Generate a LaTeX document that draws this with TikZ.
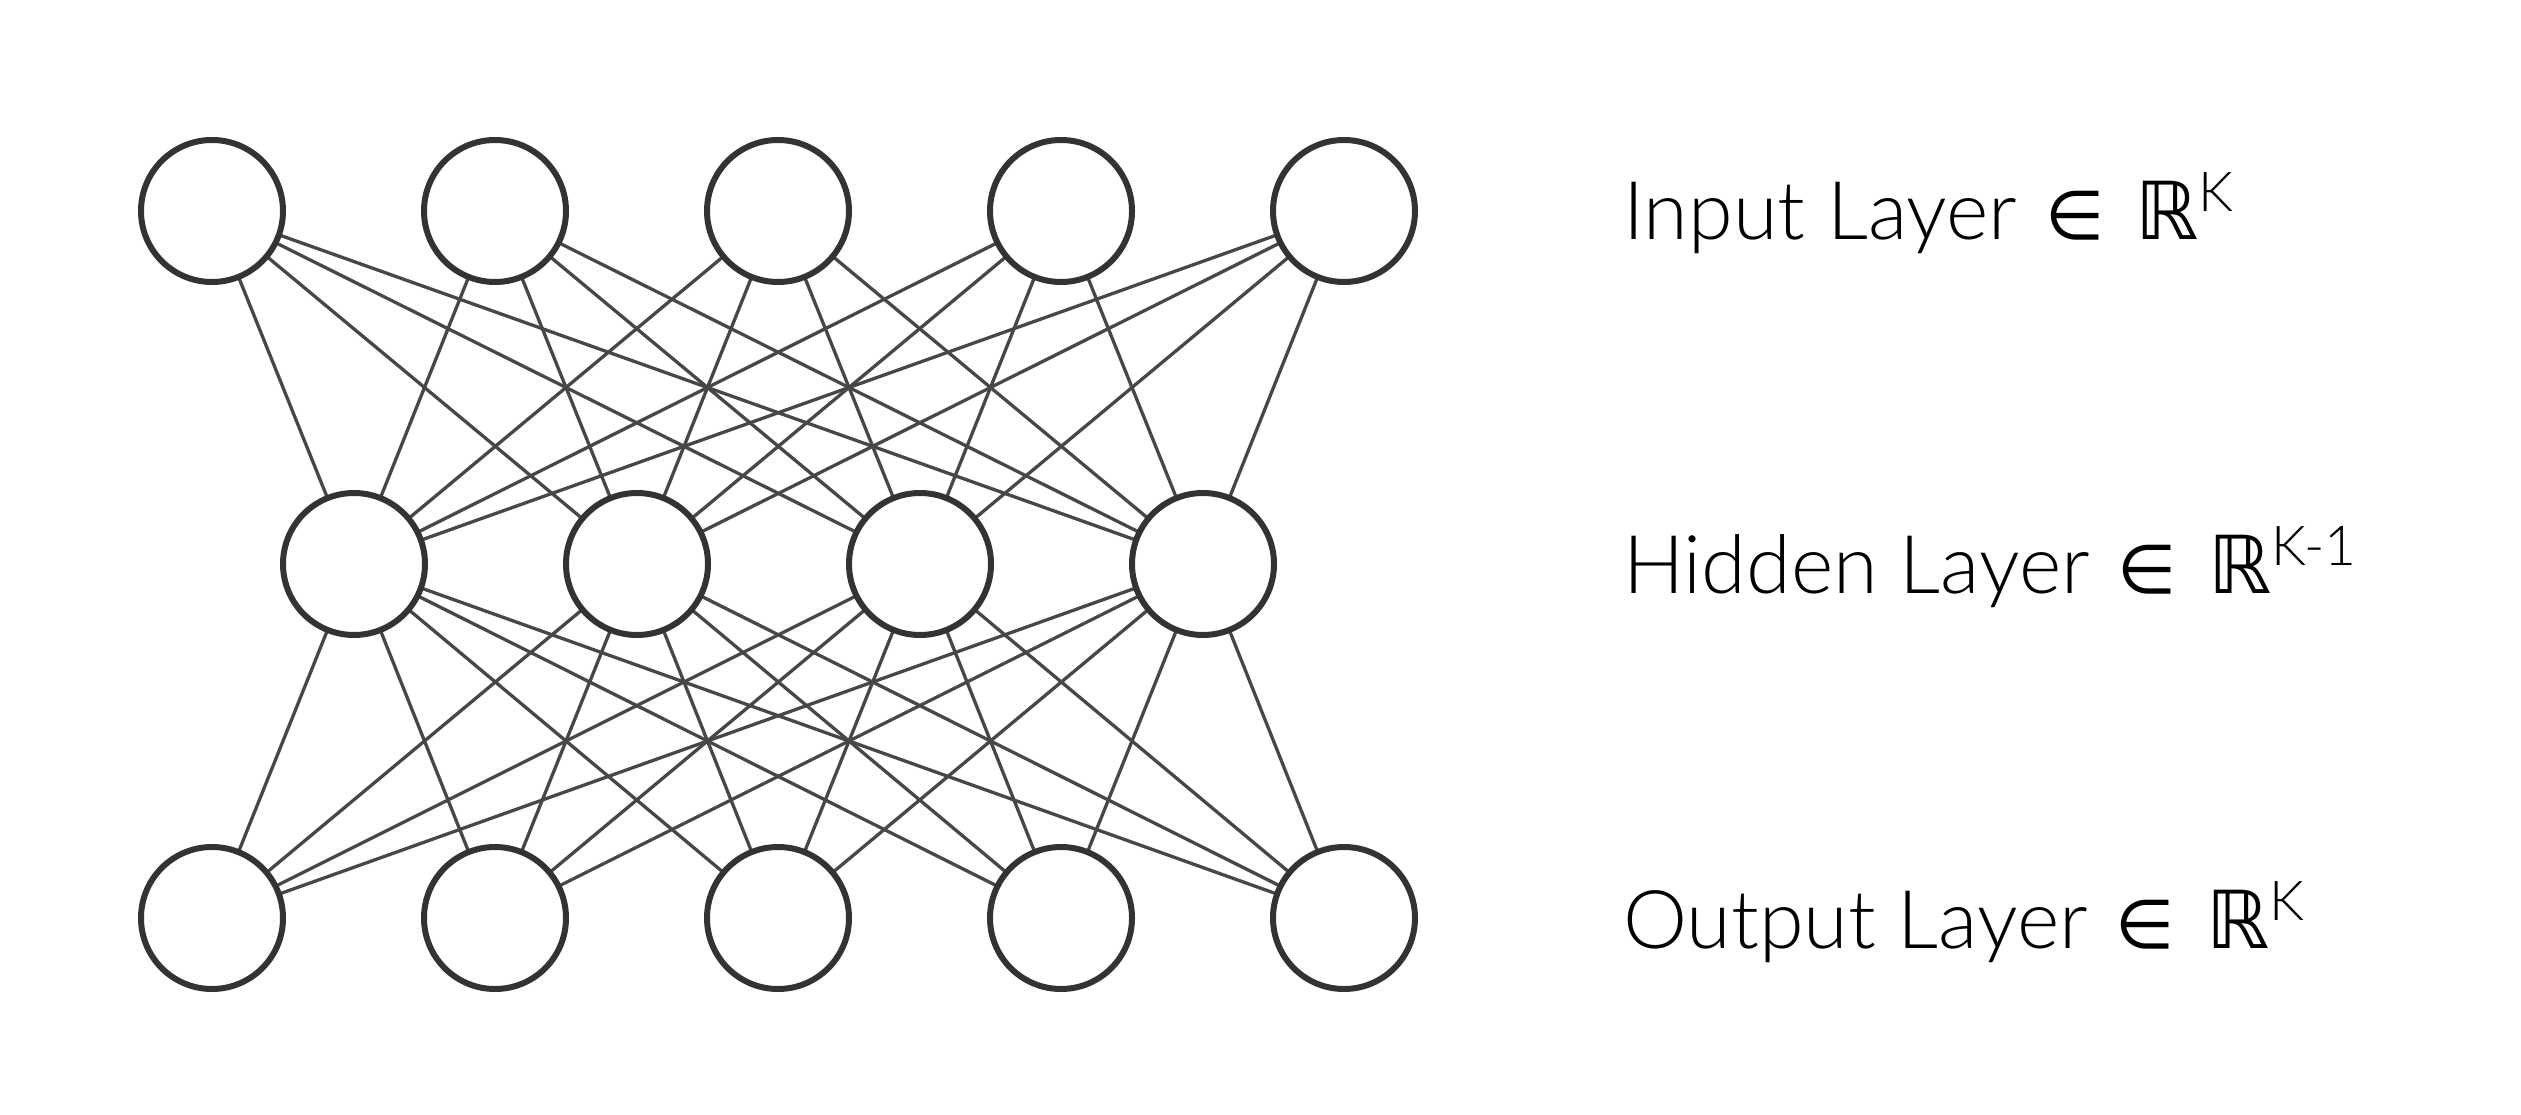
\documentclass[tikz,border=0pt]{standalone}
\usepackage{fontspec}
\usetikzlibrary{backgrounds}
\setmainfont{Lato}[UprightFont=* Light]
\newfontfamily\symfont{DejaVu Sans}
\newcommand{\memberof}{\hspace{28pt}{\symfont\fontsize{68}{90}\selectfont\char"2208}\hspace{31pt}}
\newcommand{\reals}{{\symfont\fontsize{80}{90}\selectfont\char"211D}}
\newcommand{\dimsup}[1]{\raisebox{28pt}{\fontsize{55}{60}\selectfont #1}}
\begin{document}
\begin{tikzpicture}[x=1pt,y=-1pt,
  neuron/.style={circle,draw=black!80,line width=6pt,fill=white,minimum size=142pt,inner sep=0pt},
  link/.style={draw=black!72,line width=3.3pt},
  layerlabel/.style={anchor=base west,inner sep=0pt,font=\fontsize{81}{96}\selectfont}]
\useasboundingbox (0,0) rectangle (2521,1115);

% input layer
\foreach \i/\x in {1/212,2/495,3/778,4/1061,5/1344}
  \node[neuron] (in\i) at (\x,211) {};
% hidden layer
\foreach \i/\x in {1/354,2/637,3/920,4/1203}
  \node[neuron] (hid\i) at (\x,564) {};
% output layer
\foreach \i/\x in {1/212,2/495,3/778,4/1061,5/1344}
  \node[neuron] (out\i) at (\x,918) {};

% full connections between consecutive layers
\begin{scope}[on background layer]
\foreach \i in {1,...,5}
  \foreach \j in {1,...,4}
  {
    \draw[link] (in\i.center) -- (hid\j.center);
    \draw[link] (hid\j.center) -- (out\i.center);
  }
\end{scope}

\node[layerlabel] (lin) at (1623,240) {Input Layer\memberof\reals\dimsup{K}};
\node[layerlabel] (lhid) at (1623,593) {Hidden Layer\memberof\reals\dimsup{K-1}};
\node[layerlabel] (lout) at (1623,948) {Output Layer\memberof\reals\dimsup{K}};
\end{tikzpicture}
\end{document}
